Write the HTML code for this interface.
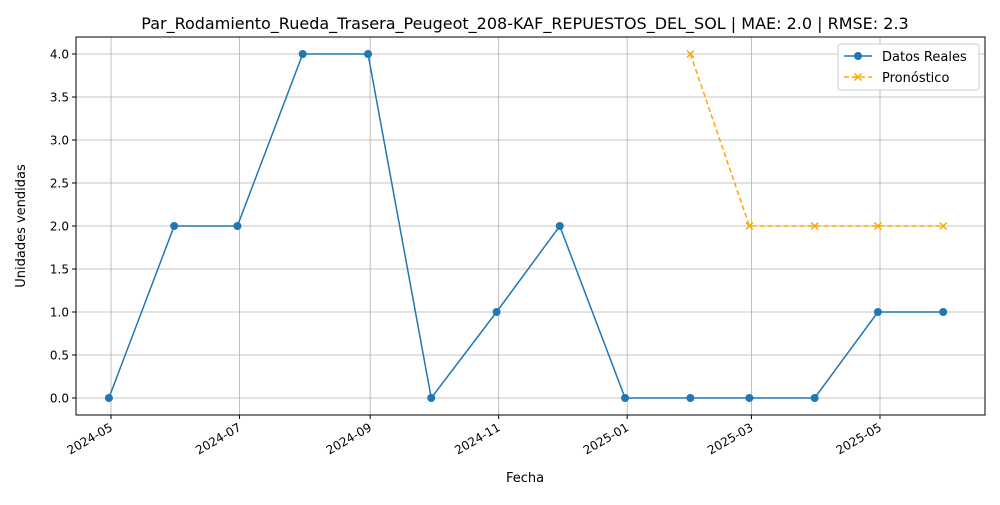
<!DOCTYPE html>
<html><head><meta charset="utf-8">
<style>
body{margin:0;background:#fff;font-family:"Liberation Sans","DejaVu Sans",sans-serif;}
svg text{font-family:"DejaVu Sans","Liberation Sans",sans-serif;}
</style></head>
<body>
<svg id="chart" width="1000" height="500" xmlns="http://www.w3.org/2000/svg">
<rect width="1000" height="500" fill="#fff"/>
<text x="525" y="29" font-size="16" text-anchor="middle" fill="#000">Par_Rodamiento_Rueda_Trasera_Peugeot_208-KAF_REPUESTOS_DEL_SOL | MAE: 2.0 | RMSE: 2.3</text>
<g id="grid"></g>
<g id="axes"></g>
<g id="series"></g>
<rect x="76" y="37" width="909" height="378" fill="none" stroke="#000" stroke-width="1"/>
<text x="525" y="482" font-size="13" text-anchor="middle">Fecha</text>
<text transform="translate(25,226) rotate(-90)" font-size="13" text-anchor="middle">Unidades vendidas</text>
<g>
<rect x="838" y="44" width="141" height="46" rx="3" fill="#fff" stroke="#ccc"/>
<line x1="844" y1="56" x2="872" y2="56" stroke="#1f77b4" stroke-width="1.5"/>
<circle cx="858" cy="56" r="4" fill="#1f77b4"/>
<text x="882" y="61" font-size="13">Datos Reales</text>
<line x1="844" y1="77" x2="872" y2="77" stroke="orange" stroke-width="1.5" stroke-dasharray="5,3"/>
<path d="M854.5,73.5 l7,7 M861.5,73.5 l-7,7" stroke="orange" stroke-width="1.5"/>
<text x="882" y="82" font-size="13">Pronóstico</text>
</g>
</svg>
<script>
const actualDates=["2024-04-30","2024-05-31","2024-06-30","2024-07-31","2024-08-31","2024-09-30","2024-10-31","2024-11-30","2024-12-31","2025-01-31","2025-02-28","2025-03-31","2025-04-30","2025-05-31"];
const actualValues=[0,2,2,4,4,0,1,2,0,0,0,0,1,1];
const forecastDates=["2025-01-31","2025-02-28","2025-03-31","2025-04-30","2025-05-31"];
const forecastValues=[4,2,2,2,2];
const xTicks=["2024-05","2024-07","2024-09","2024-11","2025-01","2025-03","2025-05"];
const yTicks=[0,0.5,1,1.5,2,2.5,3,3.5,4];

const NS="http://www.w3.org/2000/svg";
const t0=Date.UTC(2024,4,1);
function xs(d){const p=d.split("-");const t=Date.UTC(+p[0],+p[1]-1,p[2]?+p[2]:1);return 111+(t-t0)/86400000*(769/365);}
function ys(v){return 398-v*86;}
function mk(tag,attrs,parent){const e=document.createElementNS(NS,tag);for(const k in attrs)e.setAttribute(k,attrs[k]);document.getElementById(parent).appendChild(e);return e;}

yTicks.forEach(v=>{
  const y=ys(v);
  const g=mk("line",{x1:76,x2:985,y1:y,y2:y,stroke:"#b0b0b0","stroke-width":0.8},"grid");
  
  
  mk("line",{x1:72,x2:76,y1:y,y2:y,stroke:"#000"},"axes");
  const t=mk("text",{x:69,y:y+4.5,"font-size":12,"text-anchor":"end"},"axes");
  t.textContent=v.toFixed(1);
  
  
});
xTicks.forEach(d=>{
  const x=xs(d);
  const g=mk("line",{x1:x,x2:x,y1:37,y2:415,stroke:"#b0b0b0","stroke-width":0.8},"grid");
  
  
  mk("line",{x1:x,x2:x,y1:415,y2:419,stroke:"#000"},"axes");
  const ax=x-2, ay=422;
  const t=mk("text",{x:ax,y:ay,"font-size":12,"text-anchor":"end",transform:`rotate(-30 ${ax} ${ay})`,dy:"0.75em"},"axes");
  t.textContent=d;
  
  
});

const ap=actualDates.map((d,i)=>xs(d)+","+ys(actualValues[i])).join(" ");
const al=mk("polyline",{points:ap,fill:"none",stroke:"#1f77b4","stroke-width":1.5},"series");


actualDates.forEach((d,i)=>{
  const c=mk("circle",{cx:xs(d),cy:ys(actualValues[i]),r:4,fill:"#1f77b4"},"series");
  
  
});
const fp=forecastDates.map((d,i)=>xs(d)+","+ys(forecastValues[i])).join(" ");
const fl=mk("polyline",{points:fp,fill:"none",stroke:"orange","stroke-width":1.5,"stroke-dasharray":"5,3"},"series");


forecastDates.forEach((d,i)=>{
  const x=xs(d),y=ys(forecastValues[i]);
  const p=mk("path",{d:`M${x-3.5},${y-3.5} l7,7 M${x+3.5},${y-3.5} l-7,7`,stroke:"orange","stroke-width":1.5},"series");
  
  
});
</script>
</body></html>
